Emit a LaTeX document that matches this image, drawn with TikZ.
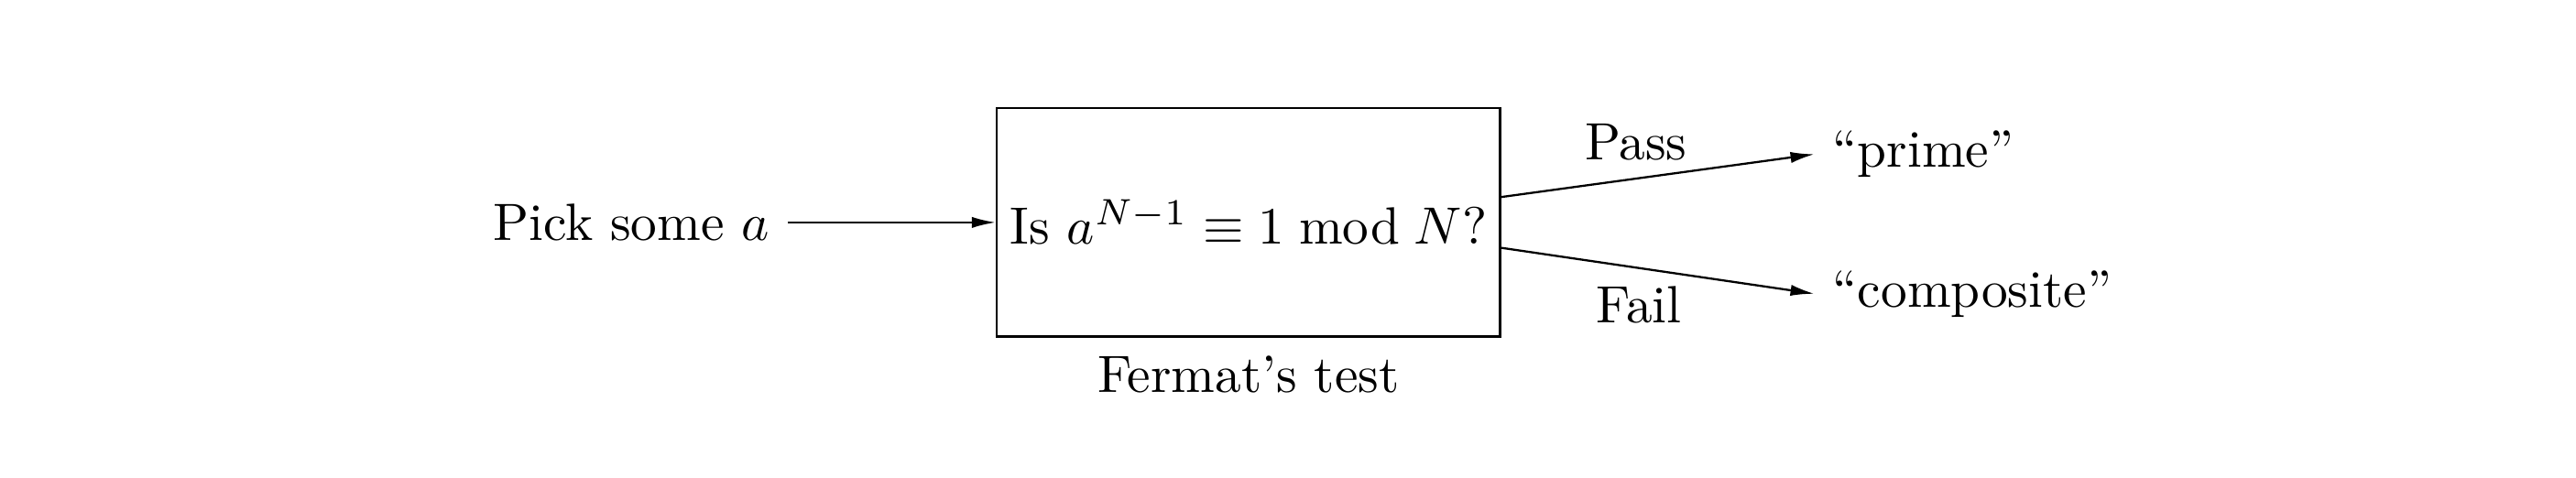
\documentclass[tikz,border=0pt]{standalone}
\usepackage{tikz}
\usetikzlibrary{arrows.meta, positioning, calc}
\usepackage{amsmath, amssymb}

\begin{document}
\begin{tikzpicture}[
    testbox/.style={draw, minimum width=3.37cm, minimum height=1.53cm, inner sep=2pt},
    flow/.style={-{Latex[length=1.6mm, width=0.75mm]}}
  ]
  \useasboundingbox (0, 0) rectangle (17.25, 3.2);

  % The test itself
  \node[testbox] (test) at (8.36, 1.71) {Is $a^{N-1} \equiv 1 \bmod N$?};
  \node[below=0pt of test] (name) {Fermat's test};

  % Input
  \node[left=1.39cm of test] (pick) {Pick some $a$};
  \draw[flow] (pick) -- (test);

  % Outcomes
  \node[anchor=west] (prime) at (12.15, 2.167) {``prime''};
  \node[anchor=west] (composite) at (12.15, 1.232) {``composite''};
  \draw[flow] ($(test.east)+(0, 0.17)$) -- node[above, pos=0.43] (pass) {Pass} (prime.west);
  \draw[flow] ($(test.east)+(0, -0.17)$) -- node[below, pos=0.44] (fail) {Fail} (composite.west);
\end{tikzpicture}
\end{document}
